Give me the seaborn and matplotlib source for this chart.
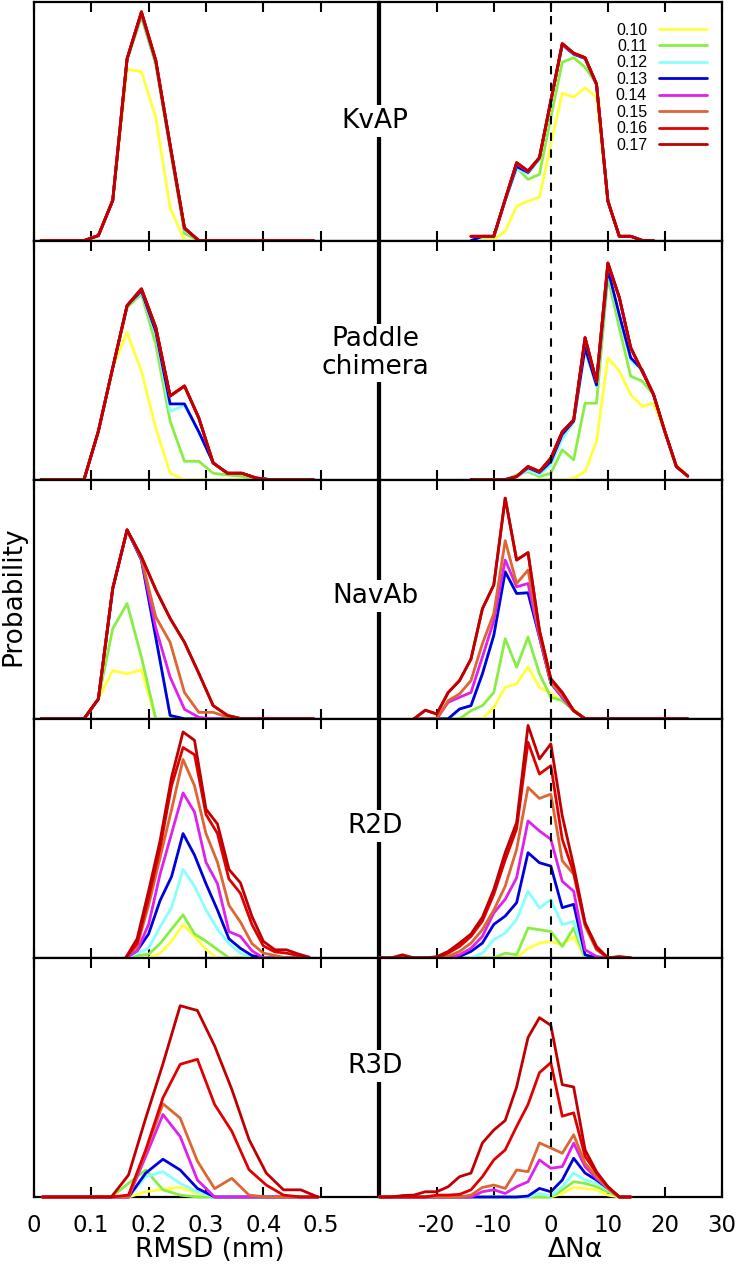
import numpy as np
import pandas as pd
import matplotlib
matplotlib.use("Agg")
import matplotlib.pyplot as plt
from matplotlib.lines import Line2D
import seaborn as sns

sns.set_theme(style="white")
plt.rcParams["font.family"] = ["DejaVu Sans"]
plt.rcParams.update({"text.color": "black", "axes.labelcolor": "black",
                     "xtick.color": "black", "ytick.color": "black"})

cutoffs = ["0.10", "0.11", "0.12", "0.13", "0.14", "0.15", "0.16", "0.17"]
colors = ["#ffff3c", "#88ee44", "#88ffff", "#0000dd", "#dd22ee", "#dd6633", "#e00000", "#c00000"]
proteins = ["KvAP", "Paddle\nchimera", "NavAb", "R2D", "R3D"]

# ---------------- x grids ----------------
rmsd_x_fine = [0.0125, 0.0375, 0.0625, 0.0875, 0.1125, 0.1375, 0.1625, 0.1875, 0.2125, 0.2375,
               0.2625, 0.2875, 0.3125, 0.3375, 0.3625, 0.3875, 0.4125, 0.4375, 0.4625, 0.4875]
rmsd_x_r2d = [0.16, 0.18, 0.20, 0.22, 0.24, 0.26, 0.28, 0.30, 0.32, 0.34, 0.36, 0.38, 0.40,
              0.42, 0.44, 0.46, 0.48]
rmsd_x_r3d = [0.015, 0.045, 0.075, 0.105, 0.135, 0.165, 0.195, 0.225, 0.255, 0.285, 0.315,
              0.345, 0.375, 0.405, 0.435, 0.465, 0.495]
dn_x_kvap = [-14, -12, -10, -8, -6, -4, -2, 0, 2, 4, 6, 8, 10, 12, 14, 16, 18]
dn_x_paddle = [-14, -12, -10, -8, -6, -4, -2, 0, 2, 4, 6, 8, 10, 12, 14, 16, 18, 20, 22, 24]
dn_x_navab = [-24, -22, -20, -18, -16, -14, -12, -10, -8, -6, -4, -2, 0, 2, 4, 6, 8, 10, 12,
              14, 16, 18, 20, 22, 24]
dn_x_r = [-30, -28, -26, -24, -22, -20, -18, -16, -14, -12, -10, -8, -6, -4, -2, 0, 2, 4, 6,
          8, 10, 12, 14]

# ---------------- KvAP ----------------
kvap_rmsd = [
    [0, 0, 0, 0, 0.021, 0.168, 0.716, 0.707, 0.515, 0.137, 0, 0, 0, 0, 0, 0, 0, 0, 0, 0],
    [0, 0, 0, 0, 0.021, 0.168, 0.755, 0.935, 0.735, 0.380, 0.030, 0, 0, 0, 0, 0, 0, 0, 0, 0],
    [0, 0, 0, 0, 0.021, 0.168, 0.758, 0.948, 0.745, 0.390, 0.045, 0, 0, 0, 0, 0, 0, 0, 0, 0],
    [0, 0, 0, 0, 0.021, 0.168, 0.760, 0.950, 0.750, 0.395, 0.050, 0, 0, 0, 0, 0, 0, 0, 0, 0],
    [0, 0, 0, 0, 0.021, 0.168, 0.760, 0.952, 0.752, 0.398, 0.052, 0, 0, 0, 0, 0, 0, 0, 0, 0],
    [0, 0, 0, 0, 0.021, 0.168, 0.760, 0.955, 0.753, 0.400, 0.053, 0, 0, 0, 0, 0, 0, 0, 0, 0],
    [0, 0, 0, 0, 0.021, 0.168, 0.760, 0.957, 0.754, 0.400, 0.053, 0, 0, 0, 0, 0, 0, 0, 0, 0],
    [0, 0, 0, 0, 0.021, 0.168, 0.760, 0.957, 0.754, 0.400, 0.053, 0, 0, 0, 0, 0, 0, 0, 0, 0],
]
kvap_dn = [
    [0, 0, 0.004, 0.039, 0.144, 0.165, 0.182, 0.403, 0.616, 0.600, 0.639, 0.600, 0.165, 0.018, 0.018, 0.001, 0],
    [0, 0.015, 0.015, 0.170, 0.305, 0.256, 0.277, 0.515, 0.746, 0.765, 0.725, 0.655, 0.165, 0.018, 0.018, 0.001, 0],
    [0, 0.015, 0.015, 0.165, 0.300, 0.280, 0.340, 0.580, 0.815, 0.778, 0.760, 0.650, 0.165, 0.018, 0.018, 0.001, 0],
    [0, 0.018, 0.018, 0.170, 0.310, 0.285, 0.345, 0.583, 0.820, 0.780, 0.762, 0.653, 0.165, 0.018, 0.018, 0.001, 0],
    [0.018, 0.018, 0.018, 0.172, 0.322, 0.289, 0.346, 0.584, 0.822, 0.782, 0.764, 0.654, 0.165, 0.018, 0.018, 0.001, 0],
    [0.018, 0.018, 0.018, 0.173, 0.325, 0.290, 0.347, 0.585, 0.823, 0.783, 0.765, 0.655, 0.165, 0.018, 0.018, 0.001, 0],
    [0.018, 0.018, 0.018, 0.173, 0.326, 0.291, 0.347, 0.585, 0.824, 0.784, 0.765, 0.655, 0.165, 0.018, 0.018, 0.001, 0],
    [0.018, 0.018, 0.018, 0.173, 0.326, 0.291, 0.347, 0.585, 0.824, 0.784, 0.765, 0.655, 0.165, 0.018, 0.018, 0.001, 0],
]

# ---------------- Paddle chimera ----------------
paddle_rmsd = [
    [0, 0, 0, 0, 0.203, 0.468, 0.616, 0.454, 0.216, 0.027, 0, 0, 0, 0, 0, 0, 0, 0, 0, 0],
    [0, 0, 0, 0, 0.203, 0.468, 0.720, 0.777, 0.567, 0.245, 0.077, 0.077, 0.027, 0.020, 0.014, 0, 0, 0, 0, 0],
    [0, 0, 0, 0, 0.203, 0.468, 0.728, 0.785, 0.610, 0.286, 0.310, 0.200, 0.070, 0.027, 0.025, 0.007, 0, 0, 0, 0],
    [0, 0, 0, 0, 0.203, 0.468, 0.728, 0.790, 0.620, 0.317, 0.317, 0.200, 0.070, 0.027, 0.027, 0.007, 0, 0, 0, 0],
    [0, 0, 0, 0, 0.203, 0.468, 0.728, 0.798, 0.637, 0.350, 0.392, 0.258, 0.070, 0.027, 0.027, 0.007, 0, 0, 0, 0],
    [0, 0, 0, 0, 0.203, 0.468, 0.728, 0.798, 0.637, 0.350, 0.392, 0.258, 0.070, 0.027, 0.027, 0.007, 0, 0, 0, 0],
    [0, 0, 0, 0, 0.203, 0.468, 0.728, 0.798, 0.637, 0.350, 0.392, 0.258, 0.070, 0.027, 0.027, 0.007, 0, 0, 0, 0],
    [0, 0, 0, 0, 0.203, 0.468, 0.728, 0.798, 0.637, 0.350, 0.392, 0.258, 0.070, 0.027, 0.027, 0.007, 0, 0, 0, 0],
]
paddle_dn = [
    [0, 0, 0, 0, 0, 0, 0, 0, 0, 0.006, 0.034, 0.160, 0.510, 0.454, 0.356, 0.307, 0.320, 0.200, 0.060, 0.015],
    [0, 0, 0, 0, 0.020, 0.034, 0.013, 0.027, 0.125, 0.083, 0.320, 0.320, 0.846, 0.636, 0.433, 0.412, 0.356, 0.200, 0.055, 0.015],
    [0, 0, 0, 0, 0.013, 0.040, 0.020, 0.062, 0.170, 0.240, 0.540, 0.390, 0.870, 0.680, 0.500, 0.455, 0.356, 0.200, 0.055, 0.015],
    [0, 0, 0, 0, 0.013, 0.050, 0.030, 0.076, 0.190, 0.245, 0.552, 0.396, 0.880, 0.690, 0.510, 0.460, 0.356, 0.200, 0.055, 0.015],
    [0, 0, 0, 0, 0.013, 0.055, 0.034, 0.090, 0.200, 0.250, 0.594, 0.410, 0.906, 0.762, 0.552, 0.454, 0.356, 0.200, 0.055, 0.015],
    [0, 0, 0, 0, 0.013, 0.055, 0.034, 0.090, 0.200, 0.250, 0.594, 0.410, 0.906, 0.762, 0.552, 0.454, 0.356, 0.200, 0.055, 0.015],
    [0, 0, 0, 0, 0.013, 0.055, 0.034, 0.090, 0.200, 0.250, 0.594, 0.410, 0.906, 0.762, 0.552, 0.454, 0.356, 0.200, 0.055, 0.015],
    [0, 0, 0, 0, 0.013, 0.055, 0.034, 0.090, 0.200, 0.250, 0.594, 0.410, 0.906, 0.762, 0.552, 0.454, 0.356, 0.200, 0.055, 0.015],
]

# ---------------- NavAb ----------------
navab_rmsd = [
    [0, 0, 0, 0, 0.083, 0.202, 0.188, 0.205, 0, 0, 0, 0, 0, 0, 0, 0, 0, 0, 0, 0],
    [0, 0, 0, 0, 0.083, 0.377, 0.482, 0.258, 0, 0, 0, 0, 0, 0, 0, 0, 0, 0, 0, 0],
    [0, 0, 0, 0, 0.083, 0.545, 0.790, 0.664, 0.340, 0.014, 0, 0, 0, 0, 0, 0, 0, 0, 0, 0],
    [0, 0, 0, 0, 0.083, 0.545, 0.790, 0.664, 0.340, 0.014, 0, 0, 0, 0, 0, 0, 0, 0, 0, 0],
    [0, 0, 0, 0, 0.083, 0.545, 0.790, 0.668, 0.380, 0.174, 0.040, 0.006, 0, 0, 0, 0, 0, 0, 0, 0],
    [0, 0, 0, 0, 0.083, 0.545, 0.790, 0.670, 0.426, 0.320, 0.110, 0.027, 0.027, 0.007, 0, 0, 0, 0, 0, 0],
    [0, 0, 0, 0, 0.083, 0.545, 0.790, 0.678, 0.540, 0.420, 0.320, 0.190, 0.055, 0.014, 0, 0, 0, 0, 0, 0],
    [0, 0, 0, 0, 0.083, 0.545, 0.790, 0.678, 0.540, 0.420, 0.320, 0.190, 0.055, 0.014, 0, 0, 0, 0, 0, 0],
]
navab_dn = [
    [0, 0, 0, 0, 0, 0, 0, 0.048, 0.132, 0.146, 0.218, 0.132, 0.106, 0.076, 0.040, 0, 0, 0, 0, 0, 0, 0, 0, 0, 0],
    [0, 0, 0, 0, 0, 0.034, 0.055, 0.110, 0.335, 0.216, 0.342, 0.188, 0.090, 0.076, 0.034, 0, 0, 0, 0, 0, 0, 0, 0, 0, 0],
    [0, 0, 0, 0, 0.041, 0.055, 0.188, 0.349, 0.615, 0.524, 0.527, 0.342, 0.150, 0.090, 0.034, 0, 0, 0, 0, 0, 0, 0, 0, 0, 0],
    [0, 0, 0, 0, 0.041, 0.055, 0.188, 0.349, 0.615, 0.524, 0.527, 0.342, 0.150, 0.090, 0.034, 0, 0, 0, 0, 0, 0, 0, 0, 0, 0],
    [0, 0, 0, 0.069, 0.090, 0.110, 0.258, 0.410, 0.664, 0.552, 0.566, 0.342, 0.150, 0.090, 0.034, 0, 0, 0, 0, 0, 0, 0, 0, 0, 0],
    [0, 0, 0, 0.076, 0.104, 0.160, 0.314, 0.440, 0.745, 0.566, 0.622, 0.356, 0.150, 0.100, 0.034, 0, 0, 0, 0, 0, 0, 0, 0, 0, 0],
    [0, 0.036, 0.020, 0.110, 0.160, 0.250, 0.460, 0.560, 0.923, 0.664, 0.695, 0.370, 0.167, 0.110, 0.034, 0, 0, 0, 0, 0, 0, 0, 0, 0, 0],
    [0, 0.036, 0.020, 0.110, 0.160, 0.250, 0.460, 0.560, 0.923, 0.664, 0.695, 0.370, 0.167, 0.110, 0.034, 0, 0, 0, 0, 0, 0, 0, 0, 0, 0],
]

# ---------------- R2D ----------------
r2d_rmsd = [
    [0, 0, 0, 0.020, 0.070, 0.140, 0.090, 0.035, 0, 0, 0, 0, 0, 0, 0, 0, 0],
    [0, 0.010, 0.015, 0.060, 0.120, 0.180, 0.100, 0.070, 0.035, 0, 0, 0, 0, 0, 0, 0, 0],
    [0, 0.020, 0.040, 0.130, 0.210, 0.370, 0.300, 0.200, 0.120, 0.060, 0.020, 0, 0, 0, 0, 0, 0],
    [0, 0.030, 0.100, 0.240, 0.340, 0.520, 0.430, 0.310, 0.200, 0.080, 0.040, 0.010, 0, 0, 0, 0, 0],
    [0, 0.030, 0.140, 0.350, 0.520, 0.690, 0.610, 0.400, 0.310, 0.110, 0.090, 0.030, 0, 0, 0, 0, 0],
    [0, 0.050, 0.220, 0.420, 0.620, 0.830, 0.720, 0.520, 0.400, 0.220, 0.150, 0.060, 0.020, 0.010, 0, 0, 0],
    [0, 0.060, 0.250, 0.460, 0.720, 0.880, 0.850, 0.600, 0.520, 0.330, 0.270, 0.140, 0.050, 0.025, 0.020, 0.010, 0],
    [0, 0.080, 0.280, 0.490, 0.755, 0.945, 0.910, 0.622, 0.560, 0.370, 0.314, 0.174, 0.069, 0.034, 0.034, 0.017, 0.003],
]
r2d_dn = [
    [0, 0, 0, 0, 0, 0, 0, 0, 0, 0, 0, 0, 0, 0.040, 0.062, 0.069, 0.055, 0.090, 0, 0, 0, 0, 0],
    [0, 0, 0, 0, 0, 0, 0, 0, 0, 0, 0, 0.020, 0.013, 0.125, 0.118, 0.110, 0.048, 0.125, 0, 0, 0, 0, 0],
    [0, 0, 0, 0, 0, 0, 0, 0, 0, 0.020, 0.076, 0.104, 0.160, 0.279, 0.209, 0.244, 0.139, 0.153, 0.006, 0, 0, 0, 0],
    [0, 0, 0, 0, 0, 0, 0, 0.006, 0.027, 0.062, 0.140, 0.175, 0.231, 0.440, 0.398, 0.384, 0.210, 0.224, 0.013, 0, 0, 0, 0],
    [0, 0, 0, 0, 0, 0, 0, 0.013, 0.040, 0.090, 0.188, 0.245, 0.335, 0.573, 0.531, 0.496, 0.320, 0.279, 0.034, 0.006, 0, 0, 0],
    [0, 0, 0, 0, 0, 0, 0.007, 0.027, 0.062, 0.118, 0.200, 0.300, 0.454, 0.713, 0.667, 0.685, 0.406, 0.350, 0.133, 0.034, 0, 0, 0],
    [0, 0, 0, 0, 0, 0, 0.020, 0.048, 0.090, 0.154, 0.266, 0.410, 0.540, 0.902, 0.769, 0.804, 0.496, 0.357, 0.146, 0.040, 0, 0, 0],
    [0, 0, 0.013, 0, 0, 0.005, 0.027, 0.062, 0.100, 0.170, 0.286, 0.440, 0.566, 0.972, 0.832, 0.895, 0.594, 0.384, 0.146, 0.048, 0, 0.006, 0],
]

# ---------------- R3D ----------------
r3d_rmsd = [
    [0, 0, 0, 0, 0, 0, 0.022, 0.032, 0.040, 0.015, 0, 0, 0, 0, 0, 0, 0],
    [0, 0, 0, 0, 0, 0.057, 0.113, 0.030, 0.008, 0, 0, 0, 0, 0, 0, 0, 0],
    [0, 0, 0, 0, 0, 0, 0.085, 0.106, 0.057, 0.022, 0, 0, 0, 0, 0, 0, 0],
    [0, 0, 0, 0, 0, 0, 0.100, 0.158, 0.113, 0.036, 0, 0, 0, 0, 0, 0, 0],
    [0, 0, 0, 0, 0, 0, 0.170, 0.345, 0.253, 0.071, 0, 0, 0, 0, 0, 0, 0],
    [0, 0, 0, 0, 0, 0, 0.190, 0.390, 0.330, 0.150, 0.035, 0.078, 0.008, 0, 0, 0, 0],
    [0, 0, 0, 0, 0, 0.008, 0.197, 0.415, 0.555, 0.576, 0.387, 0.275, 0.114, 0.050, 0.008, 0, 0],
    [0, 0, 0, 0, 0, 0.092, 0.330, 0.557, 0.800, 0.780, 0.632, 0.450, 0.240, 0.100, 0.030, 0.030, 0],
]
r3d_dn = [
    [0, 0, 0, 0, 0, 0, 0, 0, 0, 0, 0, 0, 0, 0, 0, 0, 0.015, 0.040, 0.036, 0.030, 0.008, 0, 0],
    [0, 0, 0, 0, 0, 0, 0, 0, 0, 0, 0, 0, 0, 0, 0, 0, 0.030, 0.064, 0.057, 0.043, 0.022, 0, 0],
    [0, 0, 0, 0, 0, 0, 0, 0, 0, 0, 0, 0, 0, 0, 0.015, 0.004, 0.043, 0.100, 0.071, 0.057, 0.030, 0, 0],
    [0, 0, 0, 0, 0, 0, 0, 0, 0, 0, 0, 0, 0, 0.004, 0.036, 0.022, 0.071, 0.162, 0.100, 0.071, 0.036, 0, 0],
    [0, 0, 0, 0, 0, 0, 0, 0, 0, 0.022, 0.030, 0.015, 0.043, 0.064, 0.155, 0.120, 0.127, 0.225, 0.127, 0.078, 0.036, 0, 0],
    [0, 0, 0, 0, 0, 0, 0, 0, 0.008, 0.040, 0.050, 0.036, 0.113, 0.106, 0.226, 0.205, 0.183, 0.260, 0.141, 0.085, 0.036, 0, 0],
    [0, 0, 0, 0, 0, 0.008, 0.008, 0.011, 0.030, 0.085, 0.155, 0.197, 0.295, 0.387, 0.520, 0.562, 0.338, 0.352, 0.170, 0.100, 0.043, 0, 0],
    [0, 0, 0.006, 0.008, 0.022, 0.022, 0.043, 0.085, 0.100, 0.226, 0.280, 0.320, 0.460, 0.667, 0.750, 0.718, 0.470, 0.460, 0.197, 0.106, 0.043, 0, 0],
]

rows = [
    (rmsd_x_fine, kvap_rmsd, dn_x_kvap, kvap_dn),
    (rmsd_x_fine, paddle_rmsd, dn_x_paddle, paddle_dn),
    (rmsd_x_fine, navab_rmsd, dn_x_navab, navab_dn),
    (rmsd_x_r2d, r2d_rmsd, dn_x_r, r2d_dn),
    (rmsd_x_r3d, r3d_rmsd, dn_x_r, r3d_dn),
]
label_y_px = [121, 353, 596, 826, 1066]

W, H = 740, 1266
fig = plt.figure(figsize=(W / 100, H / 100), dpi=100)
top_px, bot_px = 1.5, 1197.0
rh = (bot_px - top_px) / 5


def draw(ax, xs, series):
    frames = [pd.DataFrame({"x": xs, "p": ys, "cutoff": c}) for c, ys in zip(cutoffs, series)]
    df = pd.concat(frames, ignore_index=True)
    sns.lineplot(data=df, x="x", y="p", hue="cutoff", hue_order=cutoffs, palette=colors,
                 estimator=None, sort=False, linewidth=2.0, legend=False, ax=ax)
    for ln in ax.lines:
        ln.set_clip_on(False)
        ln.set_zorder(3)


def style(ax, bottom_row):
    ax.set_ylim(0, 1)
    for sp in ax.spines.values():
        sp.set_visible(True)
        sp.set_linewidth(1.6)
        sp.set_color("black")
        sp.set_zorder(2.5)
    ax.tick_params(axis="x", which="both", direction="in", length=7, width=1.5,
                   top=True, bottom=True, labelbottom=bottom_row, labelsize=16.5, pad=12.5,
                   colors="black")
    ax.tick_params(axis="y", left=False, right=False, labelleft=False)
    ax.set_ylabel("")
    ax.set_xlabel("")
    ax.set_facecolor("white")


for r, (xl, yl, xr, yr) in enumerate(rows):
    y0 = (H - (top_px + (r + 1) * rh)) / H
    hh = rh / H
    axl = fig.add_axes([33.8 / W, y0, (378.2 - 33.8) / W, hh])
    axr = fig.add_axes([379.7 / W, y0, (722.0 - 379.7) / W, hh])
    draw(axl, xl, yl)
    draw(axr, xr, yr)
    axl.set_xlim(0, 0.6)
    axr.set_xlim(-30, 30)
    axl.set_xticks([0, 0.1, 0.2, 0.3, 0.4, 0.5])
    axl.set_xticklabels(["0", "0.1", "0.2", "0.3", "0.4", "0.5"])
    axr.set_xticks([-20, -10, 0, 10, 20, 30])
    axr.set_xticklabels(["-20", "-10", "0", "10", "20", "30"])
    bottom = r == 4
    style(axl, bottom)
    style(axr, bottom)
    axr.axvline(0, color="black", linewidth=1.5, linestyle=(0, (4, 4)), zorder=4)
    if bottom:
        axl.set_xlabel("RMSD (nm)", fontsize=19, labelpad=0, x=0.51)
        axr.set_xlabel("ΔNα", fontsize=19, labelpad=0, x=0.573)
    if r == 0:
        handles = [Line2D([], [], color=c, linewidth=2.0) for c in colors]
        axr.legend(handles, cutoffs, loc="upper right", bbox_to_anchor=(0.956, 0.912),
                   frameon=False, markerfirst=False, handlelength=3.0, handletextpad=0.75,
                   labelspacing=0.09, borderaxespad=0, borderpad=0,
                   prop={"family": "Liberation Sans", "size": 11.5})
    fig.text(375 / W, 1 - label_y_px[r] / H, proteins[r], ha="center", va="center",
             fontsize=19, zorder=10, linespacing=1.05,
             bbox=dict(facecolor="white", edgecolor="none", pad=2))

fig.text(13 / W, 1 - 596 / H, "Probability", rotation=90, ha="center", va="center", fontsize=19)

fig.savefig("out.png", dpi=100, facecolor="white")
